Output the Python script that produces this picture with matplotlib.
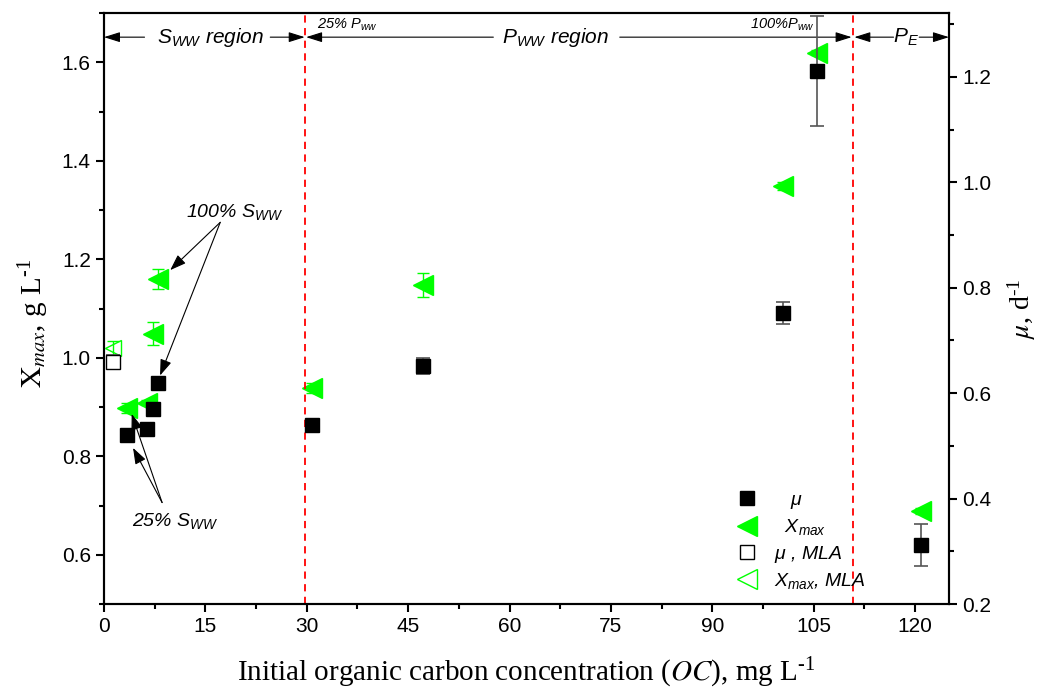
import matplotlib
matplotlib.use("Agg")
import matplotlib.pyplot as plt
from matplotlib.ticker import MultipleLocator
import numpy as np

plt.rcParams['mathtext.fontset'] = 'stix'
plt.rcParams['font.family'] = 'Liberation Sans'

# data
oc = [3.4, 6.4, 7.3, 8.0, 30.8, 47.2, 100.4, 105.5, 120.8]
mu = [0.521, 0.532, 0.570, 0.619, 0.540, 0.652, 0.752, 1.211, 0.312]
mu_err = [0.004, 0.004, 0.004, 0.004, 0.005, 0.015, 0.02, 0.105, 0.04]
xmax = [0.898, 0.909, 1.049, 1.160, 0.939, 1.148, 1.349, 1.619, 0.689]
xmax_err = [0.01, 0.005, 0.023, 0.02, 0.01, 0.024, 0.008, 0.005, 0.006]

oc_mla = [1.3]
mu_mla = [0.659]
mu_mla_err = [0.013]
xmax_mla = [1.02]
xmax_mla_err = [0.015]

region_lines = [29.7, 110.8]

green = '#00ff00'
sans_it = dict(family='Liberation Sans', style='italic')
inv = '\u2010' + '1'   # "-1" superscript with a hyphen like the original

fig = plt.figure(figsize=(10.48, 6.93), dpi=100)
ax = fig.add_axes([0.0992, 0.1284, 0.8063, 0.8528])
ax2 = ax.twinx()

# left axis: Xmax
ax.errorbar(oc, xmax, yerr=xmax_err, fmt='none', ecolor=green, elinewidth=1, capsize=4, capthick=1)
ax.errorbar(oc_mla, xmax_mla, yerr=xmax_mla_err, fmt='none', ecolor=green, elinewidth=1, capsize=4, capthick=1)
ax.plot(oc, xmax, ls='none', marker='<', ms=14, color=green, mec=green)
ax.plot(oc_mla, xmax_mla, ls='none', marker='<', ms=12, mfc='none', mec=green, mew=1)

# right axis: mu
ax2.errorbar(oc, mu, yerr=mu_err, fmt='none', ecolor='#555555', elinewidth=1.2, capsize=5, capthick=1.2)
ax2.errorbar(oc_mla, mu_mla, yerr=mu_mla_err, fmt='none', ecolor='#555555', elinewidth=1.2, capsize=5, capthick=1.2)
ax2.plot(oc, mu, ls='none', marker='s', ms=10, color='k')
ax2.plot(oc_mla, mu_mla, ls='none', marker='s', ms=10, mfc='white', mec='k', mew=1)

for xv in region_lines:
    ax.axvline(xv, color='red', ls=(0, (4, 3)), lw=1.3)

ax.set_xlim(0, 125)
ax.set_ylim(0.5, 1.70)
ax2.set_ylim(0.2, 1.321)

ax.xaxis.set_major_locator(MultipleLocator(15))
ax.xaxis.set_minor_locator(MultipleLocator(7.5))
ax.yaxis.set_major_locator(MultipleLocator(0.2))
ax.yaxis.set_minor_locator(MultipleLocator(0.1))
ax2.yaxis.set_major_locator(MultipleLocator(0.2))
ax2.yaxis.set_minor_locator(MultipleLocator(0.1))

for a in (ax, ax2):
    a.tick_params(which='major', direction='out', length=6, width=1.5, labelsize=15)
    a.tick_params(which='minor', direction='out', length=3.5, width=1.5)
    for s in a.spines.values():
        s.set_linewidth(1.5)

ax.set_xlabel(r'Initial organic carbon concentration ($\it{OC}$), mg L$\mathregular{^{' + inv + '}}$',
              family='Liberation Serif', fontsize=21, labelpad=14)
ax.set_ylabel(r'$\mathrm{X}_{max}$, g L$\mathregular{^{' + inv + '}}$', family='Liberation Serif', fontsize=21)
ax.yaxis.set_label_coords(-0.063, 0.475)
ax2.set_ylabel(r'$\mu$, d$\mathregular{^{' + inv + '}}$', family='Liberation Serif', fontsize=20, labelpad=10)

# region arrows along the top
ya = 1.651
arr = dict(arrowstyle='-|>,head_length=0.7,head_width=0.22', color='k', lw=0.8, mutation_scale=14, shrinkA=0, shrinkB=0)
segments = [(6.0, 0), (24.6, 29.7), (57.6, 29.9), (76.3, 110.6), (116.8, 111.0), (120.6, 125)]
for x0, x1 in segments:
    ax.annotate('', xy=(x1, ya), xytext=(x0, ya), arrowprops=arr)
ax.text(15.8, ya, r'S$\mathregular{_{WW}}$ region', ha='center', va='center', fontsize=15, **sans_it)
ax.text(66.8, ya, r'P$\mathregular{_{WW}}$ region', ha='center', va='center', fontsize=15, **sans_it)
ax.text(118.6, ya, r'P$\mathregular{_{E}}$', ha='center', va='center', fontsize=15, **sans_it)
ax.text(36.0, 1.677, r'25% P$\mathregular{_{ww}}$', ha='center', va='center', fontsize=10.5, **sans_it)
ax.text(100.3, 1.677, r'100%P$\mathregular{_{ww}}$', ha='center', va='center', fontsize=10.5, **sans_it)

# sample annotations
arr2 = dict(arrowstyle='-|>,head_length=0.7,head_width=0.25', color='k', lw=0.8, mutation_scale=14, shrinkA=0, shrinkB=0)
ax.text(19.4, 1.295, r'100% S$\mathregular{_{WW}}$', ha='center', va='center', fontsize=14, **sans_it)
ax.annotate('', xy=(9.8, 1.178), xytext=(17.2, 1.275), arrowprops=arr2)
ax.annotate('', xy=(8.3, 0.964), xytext=(17.2, 1.275), arrowprops=arr2)
ax.text(10.5, 0.668, r'25% S$\mathregular{_{WW}}$', ha='center', va='center', fontsize=14, **sans_it)
ax.annotate('', xy=(4.1, 0.886), xytext=(8.6, 0.706), arrowprops=arr2)
ax.annotate('', xy=(4.3, 0.817), xytext=(8.6, 0.706), arrowprops=arr2)

# legend
h1, = ax.plot([], [], ls='none', marker='s', ms=10, color='k')
h2, = ax.plot([], [], ls='none', marker='<', ms=14, color=green)
h3, = ax.plot([], [], ls='none', marker='s', ms=10, mfc='white', mec='k', mew=1)
h4, = ax.plot([], [], ls='none', marker='<', ms=14, mfc='none', mec=green, mew=1)
leg = ax2.legend([h1, h2, h3, h4],
                 [r'   $\mathregular{\mu}$', r'  X$\mathregular{_{max}}$', r'$\mathregular{\mu}$ , MLA', r'X$\mathregular{_{max}}$, MLA'],
                 loc='upper left', bbox_to_anchor=(0.685, 0.305), bbox_transform=fig.transFigure,
                 frameon=False, prop=dict(family='Liberation Sans', style='italic', size=14),
                 labelspacing=0.33, handletextpad=0.4, borderpad=0)

fig.savefig('out.png', dpi=100)
